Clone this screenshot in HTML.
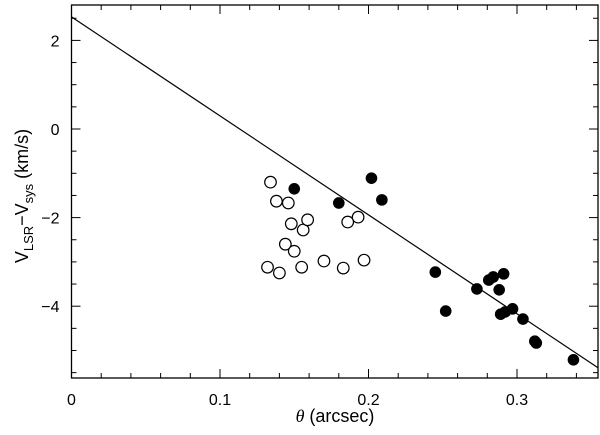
<!DOCTYPE html>
<html><head><meta charset="utf-8"><style>
body{margin:0;background:#fff;}
svg{display:block;font-family:"Liberation Sans",sans-serif;}
</style></head><body>
<svg id="chart" width="600" height="435" viewBox="0 0 600 435">
<g id="axes"></g>
<g id="marks"></g>
<text x="335" y="422" font-size="18" text-anchor="middle"><tspan font-style="italic" font-family="Liberation Serif,serif">θ</tspan> (arcsec)</text>
<text transform="translate(28,196) rotate(-90)" font-size="18" text-anchor="middle">V<tspan font-size="13" dy="5">LSR</tspan><tspan dy="-5">−V</tspan><tspan font-size="13" dy="5">sys</tspan><tspan dy="-5"> (km/s)</tspan></text>
</svg>
<script>
const openX=[0.134,0.138,0.146,0.148,0.156,0.144,0.150,0.132,0.140,0.155,0.159,0.170,0.183,0.186,0.193,0.197];
const openY=[-1.20,-1.63,-1.67,-2.14,-2.28,-2.60,-2.76,-3.12,-3.25,-3.12,-2.05,-2.98,-3.14,-2.10,-1.99,-2.96];
const fillX=[0.150,0.180,0.202,0.209,0.245,0.252,0.273,0.281,0.284,0.291,0.288,0.289,0.292,0.297,0.304,0.312,0.313,0.338];
const fillY=[-1.35,-1.67,-1.11,-1.60,-3.23,-4.11,-3.61,-3.41,-3.34,-3.27,-3.63,-4.18,-4.13,-4.06,-4.29,-4.79,-4.83,-5.21];
const lineIntercept=2.53;
const lineSlope=-22.34;
const xTicks=[0,0.1,0.2,0.3];
const xTickLabels=["0","0.1","0.2","0.3"];
const yTicks=[-4,-2,0,2];
const yTickLabels=["−4","−2","0","2"];
const X0=71.5,X1=598,Y0=378,Y1=5;
const xmin=0,xmax=(X1-X0)/1485;
const ymax=(129-Y1)/44.3,ymin=(129-Y0)/44.3;
const sx=v=>X0+(v-xmin)/(xmax-xmin)*(X1-X0);
const sy=v=>Y0-(v-ymin)/(ymax-ymin)*(Y0-Y1);
const NS="http://www.w3.org/2000/svg";
function mk(t,a,p){const e=document.createElementNS(NS,t);for(const k in a)e.setAttribute(k,a[k]);p.appendChild(e);return e;}
const ax=document.getElementById('axes'),mg=document.getElementById('marks');
const fr=mk('rect',{x:X0,y:Y1,width:X1-X0,height:Y0-Y1,fill:'none',stroke:'#000','stroke-width':1.3},ax);


for(let i=0;i<=17;i++){const v=i*0.02;if(v>xmax)break;const x=sx(v);const L=(i%5===0)?9:5;
 mk('line',{x1:x,x2:x,y1:Y0,y2:Y0-L,stroke:'#000'},ax);mk('line',{x1:x,x2:x,y1:Y1,y2:Y1+L,stroke:'#000'},ax);}
for(let v=-5.5;v<=2.5;v+=0.5){const y=sy(v);const L=(Math.abs(v%2)<1e-9)?9:5;
 mk('line',{x1:X0,x2:X0+L,y1:y,y2:y,stroke:'#000'},ax);mk('line',{x1:X1,x2:X1-L,y1:y,y2:y,stroke:'#000'},ax);}
xTicks.forEach((v,i)=>{const t=mk('text',{x:sx(v),y:Y0+27,'font-size':16,'text-anchor':'middle'},ax);t.textContent=xTickLabels[i];
 
 });
yTicks.forEach((v,i)=>{const t=mk('text',{x:X0-12,y:sy(v)+6,'font-size':16,'text-anchor':'end'},ax);t.textContent=yTickLabels[i];
 
 });
const ln=mk('line',{x1:sx(0),y1:sy(lineIntercept),x2:sx(xmax),y2:sy(lineIntercept+lineSlope*xmax),stroke:'#000','stroke-width':1.2},mg);


openX.forEach((v,i)=>{const c=mk('circle',{cx:sx(v),cy:sy(openY[i]),r:5.8,fill:'#fff',stroke:'#000','stroke-width':1.2},mg);
 
 });
fillX.forEach((v,i)=>{const c=mk('circle',{cx:sx(v),cy:sy(fillY[i]),r:5.8,fill:'#000'},mg);
 
 });
</script>
</body></html>
